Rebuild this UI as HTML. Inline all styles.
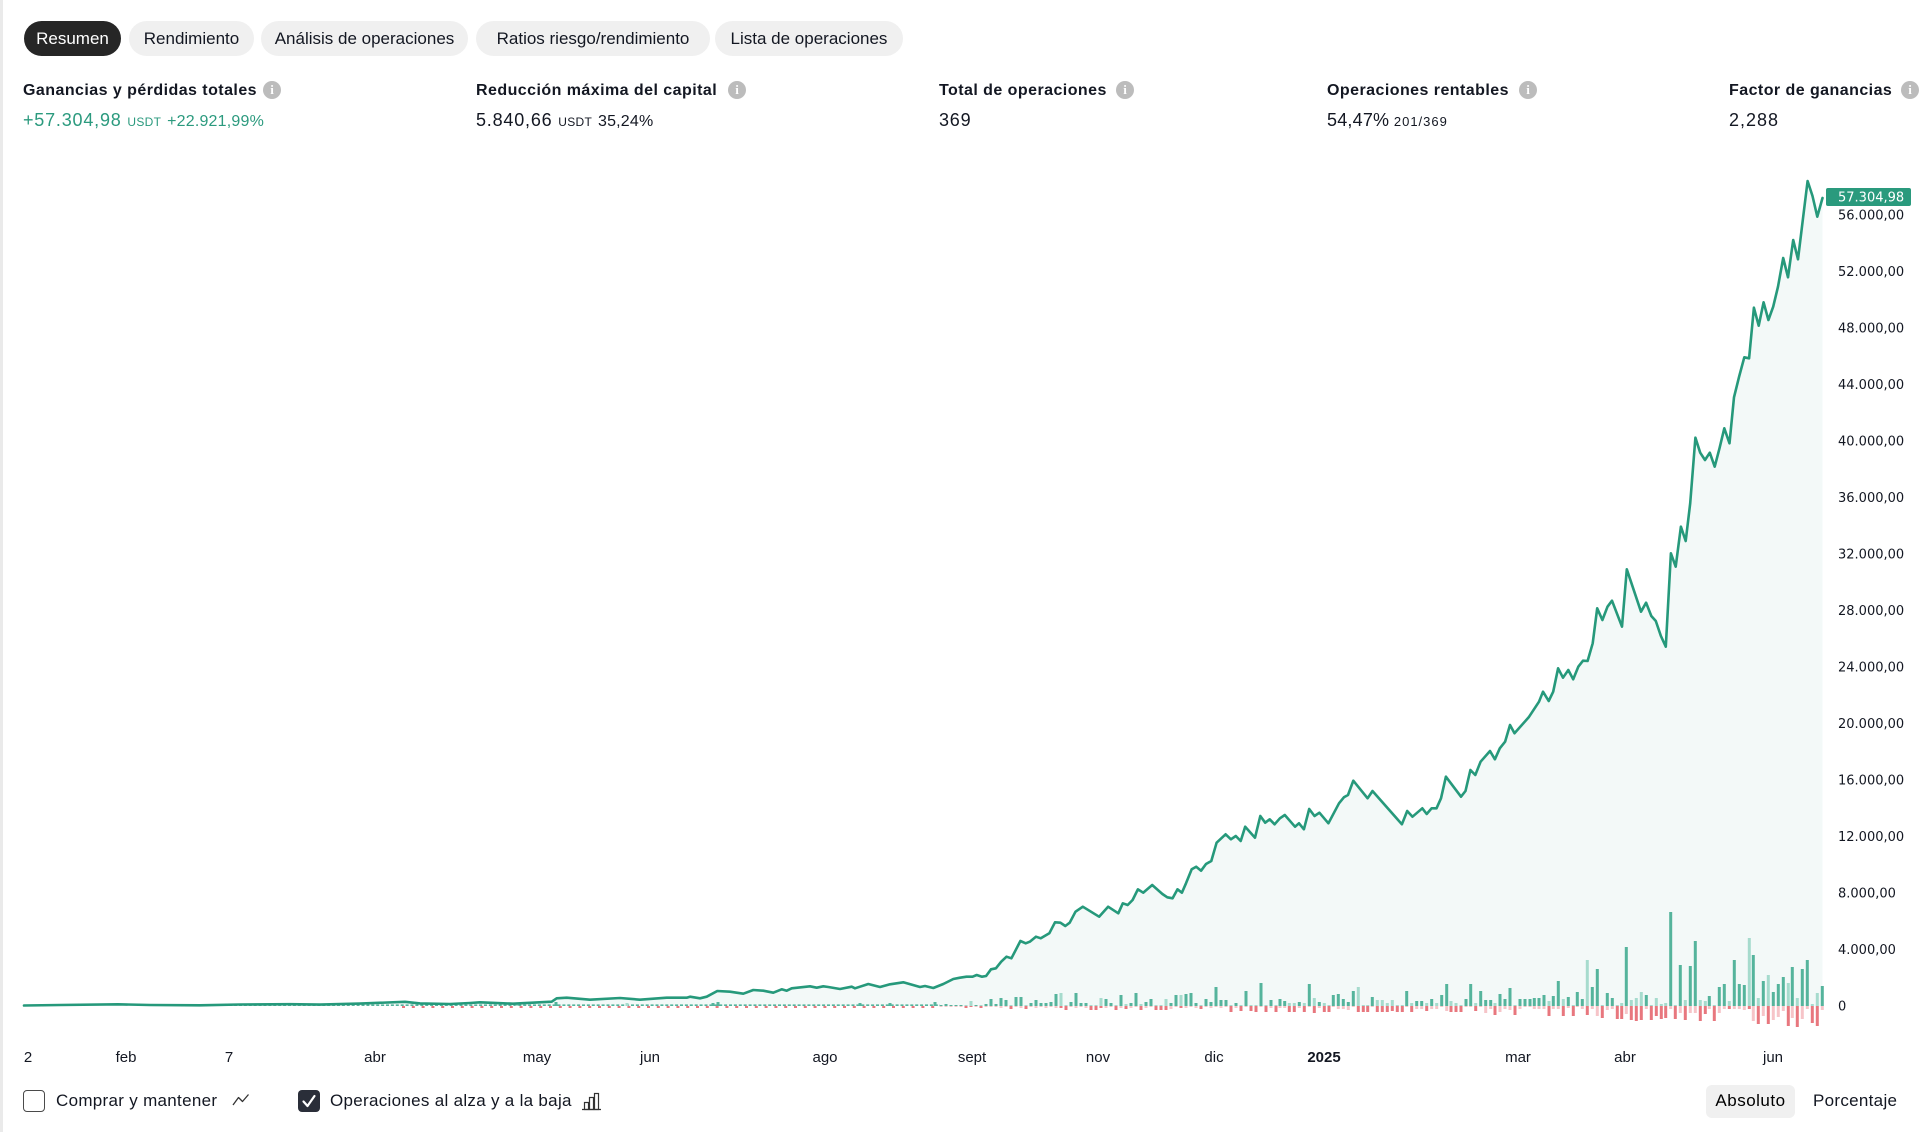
<!DOCTYPE html>
<html><head><meta charset="utf-8">
<style>
html,body{margin:0;padding:0;background:#fff;}
body{width:1923px;height:1132px;overflow:hidden;position:relative;font-family:"Liberation Sans",Arial,sans-serif;color:#131722;}
.lb{position:absolute;left:0;top:0;width:3px;height:1132px;background:#eaeaea;}
.pill{position:absolute;top:21px;height:35px;border-radius:18px;background:#f0f0f0;font-size:17px;line-height:35px;text-align:center;color:#131722;white-space:nowrap;}
.pill.on{background:#262626;color:#fff;}
.lab{position:absolute;top:81px;font-size:16px;font-weight:bold;line-height:20px;letter-spacing:0.45px;white-space:nowrap;color:#131722;}
.val{position:absolute;top:108px;height:24px;line-height:24px;font-size:18px;white-space:nowrap;letter-spacing:0.8px;color:#131722;}
.val .s{font-size:12px;letter-spacing:0.3px;}
.val .m{font-size:16px;letter-spacing:0.2px;}
.grn{color:#2b9a7e;}
.info{position:absolute;top:81px;width:18px;height:18px;border-radius:50%;background:#bcbcbc;color:#fff;font-size:13px;font-weight:bold;line-height:18px;text-align:center;font-family:"Liberation Serif",serif;}
.xl{position:absolute;top:1049px;line-height:18px;font-size:15px;transform:translateX(-50%);white-space:nowrap;color:#131722;}
.ctl{position:absolute;top:1090px;line-height:22px;font-size:17px;white-space:nowrap;color:#131722;letter-spacing:0.3px;}
</style></head><body>
<div class="lb"></div>

<div class="pill on" style="left:24px;width:97px;">Resumen</div>
<div class="pill" style="left:129px;width:125px;">Rendimiento</div>
<div class="pill" style="left:261px;width:207px;">Análisis de operaciones</div>
<div class="pill" style="left:476px;width:234px;">Ratios riesgo/rendimiento</div>
<div class="pill" style="left:715px;width:188px;">Lista de operaciones</div>

<div class="lab" style="left:23px;">Ganancias y pérdidas totales</div>
<div class="info" style="left:263px;">i</div>
<div class="lab" style="left:476px;">Reducción máxima del capital</div>
<div class="info" style="left:728px;">i</div>
<div class="lab" style="left:939px;">Total de operaciones</div>
<div class="info" style="left:1116px;">i</div>
<div class="lab" style="left:1327px;">Operaciones rentables</div>
<div class="info" style="left:1519px;">i</div>
<div class="lab" style="left:1729px;">Factor de ganancias</div>
<div class="info" style="left:1901px;">i</div>

<div class="val grn" style="left:23px;">+57.304,98 <span class="s">USDT</span> <span class="m">+22.921,99%</span></div>
<div class="val" style="left:476px;">5.840,66 <span class="s">USDT</span> <span class="m">35,24%</span></div>
<div class="val" style="left:939px;">369</div>
<div class="val" style="left:1327px;letter-spacing:0.2px;">54,47%<span class="s" style="font-size:13px;letter-spacing:1px;"> 201/369</span></div>
<div class="val" style="left:1729px;letter-spacing:1px;">2,288</div>

<svg width="1923" height="1132" style="position:absolute;left:0;top:0;" xmlns="http://www.w3.org/2000/svg">
<polygon fill="#f3f9f8" points="24,1005.5 60,1005 118,1004.3 150,1005 200,1005.3 240,1004.5 290,1004.2 320,1004.6 360,1003.6 405,1001.8 420,1003.4 450,1004 470,1003 480,1002.3 513,1003.7 551.7,1001.7 556.7,998.3 566.7,997.7 590,999.7 620,998 640,999.7 666.7,997.7 686.7,997.7 690,996.7 700,998.3 706.7,996.7 717.3,991 730,991.7 743.3,993.7 753.3,990 763.3,990.7 773.3,992.7 781.7,989.3 786.7,990.7 791.7,988.3 810,986.3 816.7,987.7 823.3,986.3 828.3,987 840,989 851.7,986.7 855,988.3 868.3,984 880,987 890,984.3 903.3,982.3 920,987 925,986 933.3,988 943.3,984 953.3,979 960,977.7 966.5,976.7 972.6,976.7 976.7,975 982,976.7 986.1,976 991,969.3 995.9,968.3 1001.2,961.7 1006.5,956.7 1011.4,958.3 1020.4,941 1025.7,943.3 1029.8,941.7 1035.9,936.7 1040.8,938.3 1049.3,933.3 1055,922.3 1060.4,922.7 1065.3,926 1069.7,922.7 1075.5,911.7 1082.8,906.7 1099.1,916.7 1108.1,906.7 1118.3,913.3 1122.8,903.3 1127.7,905 1132.6,900 1137.9,889.3 1143.2,892.7 1152.2,885 1162.4,894 1167.3,897.3 1172.6,898.3 1177.5,889.3 1181.9,892.7 1186,883.3 1191.7,869.3 1196.2,866.7 1201.1,870.7 1206,864 1211.3,861 1216.6,842.7 1225.6,834.3 1230.9,839.3 1235.8,836 1240.7,841 1245.2,826.7 1255,837.7 1260.3,816 1265.2,822.7 1269.7,819.3 1274.6,824.3 1279.9,818.3 1284.8,815 1295,826.7 1299,823.3 1303.9,829.3 1309.2,809 1314.5,816 1319.4,812.7 1328.4,823.3 1339,803.3 1343.9,797.3 1348,795 1353.3,780.7 1367.6,798.3 1372.5,791 1401.9,824.3 1407.2,811 1412.5,816.7 1422.3,808.3 1426.7,814 1431.6,808.3 1436.5,808.3 1441,798.3 1445.9,776.7 1461,796.7 1465.5,791 1470.4,770 1475.3,775 1480.6,761.7 1490,751 1494.9,759.3 1499.8,748.3 1505.1,741.7 1510,725 1514.5,733.3 1528.7,717.3 1539,701.7 1543,691.7 1548.7,701 1553.2,691.7 1558.1,668.3 1563,677.7 1568.3,670 1573.2,679.3 1578.3,666.7 1583,660.7 1587.6,661 1592.7,643.3 1597.2,608.3 1602.4,620 1607.5,606.7 1612,600.7 1622,626.7 1626.8,569.3 1641,611.7 1646.1,602.7 1651.3,616 1655.8,621 1660.9,636 1665.8,646.7 1670.9,553.3 1675.7,566.7 1680.9,526.7 1685.7,541 1690.2,503.3 1695.4,437.7 1700.2,452.7 1705,460 1709.8,452.7 1714.7,466.7 1719.5,448.3 1724.3,428.3 1729.5,443.3 1734,397.3 1739.1,376.7 1744.3,357.3 1749.1,358.3 1753.9,307.7 1758.7,325.7 1763.6,302.3 1768.4,320 1773.2,306.7 1778,286.7 1783.2,258 1788,277.3 1793.2,240 1798,259.3 1802.8,220 1807.6,181 1812.5,196 1817.3,216.7 1822.5,198 1822.5,1006 24,1006"/>

<line x1="190" y1="1005.2" x2="940" y2="1005.2" stroke="#55b49c" stroke-width="1.6" stroke-dasharray="3 1.9"/>
<line x1="402" y1="1007" x2="940" y2="1007" stroke="#e8777e" stroke-width="2" stroke-dasharray="3 6.8"/>

<path fill="#55b49c" d="M554.5 1006v-4h3v4zM711.5 1006v-3h3v3zM716.5 1006v-4h3v4zM858.5 1006v-3h3v3zM888.5 1006v-3h3v3zM933.5 1006v-4h3v4z
M939.5 1006v-1h3v1zM944.5 1006v-2h3v2zM949.5 1006v-1h3v1zM954.5 1006v-1h3v1zM959.5 1006v-1h3v1zM974.5 1006v-1h3v1zM984.5 1006v-2h3v2zM989.5 1006v-7h3v7zM994.5 1006v-2h3v2zM999.5 1006v-8h3v8zM1004.5 1006v-6h3v6zM1014.5 1006v-9h3v9zM1019.5 1006v-9h3v9zM1029.5 1006v-3h3v3zM1034.5 1006v-6h3v6zM1039.5 1006v-3h3v3zM1044.5 1006v-3h3v3zM1049.5 1006v-4h3v4zM1054.5 1006v-12h3v12zM1069.5 1006v-4h3v4zM1074.5 1006v-13h3v13zM1079.5 1006v-3h3v3zM1084.5 1006v-3h3v3zM1104.5 1006v-7h3v7zM1109.5 1006v-3h3v3zM1119.5 1006v-11h3v11zM1129.5 1006v-3h3v3zM1134.5 1006v-13h3v13zM1144.5 1006v-4h3v4zM1149.5 1006v-7h3v7zM1169.5 1006v-3h3v3zM1174.5 1006v-11h3v11zM1184.5 1006v-12h3v12zM1189.5 1006v-13h3v13zM1194.5 1006v-3h3v3zM1204.5 1006v-7h3v7zM1209.5 1006v-4h3v4zM1214.5 1006v-19h3v19zM1219.5 1006v-6h3v6zM1224.5 1006v-6h3v6zM1234.5 1006v-3h3v3zM1244.5 1006v-15h3v15zM1259.5 1006v-23h3v23zM1269.5 1006v-6h3v6z
M1278.5 1006v-7h3v7zM1283.2 1006v-5h3v5zM1297.8 1006v-4h3v4zM1307.8 1006v-22h3v22zM1317.8 1006v-4h3v4zM1331.8 1006v-11h3v11zM1336.8 1006v-12h3v12zM1341.8 1006v-7h3v7zM1346.8 1006v-4h3v4zM1351.8 1006v-15h3v15zM1370.8 1006v-9h3v9zM1405.2 1006v-15h3v15zM1415.2 1006v-5h3v5zM1420.2 1006v-5h3v5zM1430.2 1006v-7h3v7zM1440.2 1006v-11h3v11zM1445.2 1006v-22h3v22zM1464.5 1006v-7h3v7zM1469.2 1006v-22h3v22zM1479.2 1006v-15h3v15zM1484.2 1006v-6h3v6zM1489.2 1006v-6h3v6zM1498.5 1006v-12h3v12zM1503.5 1006v-7h3v7zM1508.5 1006v-18h3v18zM1518.5 1006v-7h3v7zM1523.5 1006v-7h3v7zM1528.5 1006v-7h3v7zM1532.8 1006v-8h3v8zM1537.5 1006v-8h3v8zM1542.5 1006v-11h3v11zM1551.8 1006v-10h3v10zM1556.8 1006v-25h3v25z
M1566.8 1006v-9h3v9zM1575.8 1006v-14h3v14zM1580.8 1006v-7h3v7zM1590.8 1006v-19h3v19zM1595.8 1006v-37h3v37zM1605.8 1006v-13h3v13zM1610.8 1006v-8h3v8zM1624.8 1006v-59h3v59zM1644.8 1006v-11h3v11zM1669.2 1006v-94h3v94zM1678.8 1006v-41h3v41zM1688.8 1006v-40h3v40zM1693.8 1006v-65h3v65zM1707.8 1006v-10h3v10zM1717.8 1006v-19h3v19zM1722.8 1006v-22h3v22zM1732.8 1006v-46h3v46zM1737.8 1006v-22h3v22zM1742.8 1006v-21h3v21zM1751.8 1006v-51h3v51zM1761.8 1006v-25h3v25zM1771.8 1006v-14h3v14zM1776.8 1006v-22h3v22zM1781.8 1006v-29h3v29zM1790.8 1006v-39h3v39zM1800.8 1006v-37h3v37zM1805.8 1006v-46h3v46zM1820.8 1006v-20h3v20z"/>

<path fill="#a6dbcd" d="M515.5 1006v-3h3v3zM625.5 1006v-3h3v3z
M964.5 1006v-1h3v1zM969.5 1006v-5h3v5zM979.5 1006v-1h3v1zM1009.5 1006v-1h3v1zM1024.5 1006v-1h3v1zM1059.5 1006v-13h3v13zM1064.5 1006v-1h3v1zM1089.5 1006v-1h3v1zM1094.5 1006v-1h3v1zM1099.5 1006v-8h3v8zM1114.5 1006v-1h3v1zM1124.5 1006v-2h3v2zM1139.5 1006v-2h3v2zM1154.5 1006v-1h3v1zM1159.5 1006v-1h3v1zM1164.5 1006v-7h3v7zM1179.5 1006v-11h3v11zM1199.5 1006v-1h3v1zM1229.5 1006v-1h3v1zM1239.5 1006v-1h3v1zM1249.5 1006v-1h3v1zM1254.5 1006v-1h3v1zM1264.5 1006v-1h3v1zM1274.5 1006v-1h3v1z
M1287.8 1006v-3h3v3zM1292.8 1006v-3h3v3zM1302.8 1006v-3h3v3zM1312.8 1006v-8h3v8zM1322.8 1006v-3h3v3zM1327.5 1006v-1h3v1zM1356.8 1006v-19h3v19zM1361.8 1006v-1h3v1zM1366.2 1006v-1h3v1zM1375.8 1006v-6h3v6zM1380.8 1006v-6h3v6zM1385.8 1006v-3h3v3zM1390.8 1006v-6h3v6zM1395.8 1006v-1h3v1zM1400.8 1006v-1h3v1zM1410.2 1006v-3h3v3zM1425.2 1006v-3h3v3zM1435.2 1006v-3h3v3zM1449.5 1006v-5h3v5zM1454.5 1006v-3h3v3zM1459.5 1006v-1h3v1zM1474.2 1006v-3h3v3zM1493.5 1006v-3h3v3zM1513.5 1006v-1h3v1zM1547.5 1006v-5h3v5z
M1561.8 1006v-7h3v7zM1571.8 1006v-1h3v1zM1585.8 1006v-46h3v46zM1600.8 1006v-1h3v1zM1615.8 1006v-1h3v1zM1620.2 1006v-3h3v3zM1629.8 1006v-6h3v6zM1634.8 1006v-8h3v8zM1639.8 1006v-14h3v14zM1649.8 1006v-1h3v1zM1654.8 1006v-8h3v8zM1659.8 1006v-2h3v2zM1664.2 1006v-3h3v3zM1673.8 1006v-1h3v1zM1683.8 1006v-6h3v6zM1698.8 1006v-6h3v6zM1703.8 1006v-5h3v5zM1712.8 1006v-1h3v1zM1727.8 1006v-5h3v5zM1747.8 1006v-68h3v68zM1756.8 1006v-8h3v8zM1766.8 1006v-31h3v31zM1786.8 1006v-23h3v23zM1795.8 1006v-8h3v8zM1810.8 1006v-2h3v2zM1815.8 1006v-13h3v13z"/>

<path fill="#e8777e" d="M964.5 1006v2h3v-2zM969.5 1006v1h3v-1zM979.5 1006v2h3v-2zM1009.5 1006v3h3v-3zM1024.5 1006v3h3v-3zM1059.5 1006v2h3v-2zM1064.5 1006v4h3v-4zM1089.5 1006v4h3v-4zM1094.5 1006v4h3v-4zM1099.5 1006v2h3v-2zM1114.5 1006v4h3v-4zM1124.5 1006v3h3v-3zM1139.5 1006v4h3v-4zM1154.5 1006v4h3v-4zM1159.5 1006v4h3v-4zM1164.5 1006v4h3v-4zM1179.5 1006v2h3v-2zM1199.5 1006v3h3v-3zM1229.5 1006v6h3v-6zM1239.5 1006v5h3v-5zM1249.5 1006v5h3v-5zM1254.5 1006v6h3v-6zM1264.5 1006v6h3v-6zM1274.5 1006v6h3v-6z
M1287.8 1006v6h3v-6zM1292.8 1006v6h3v-6zM1302.8 1006v6h3v-6zM1312.8 1006v7h3v-7zM1322.8 1006v6h3v-6zM1327.5 1006v6h3v-6zM1356.8 1006v6h3v-6zM1361.8 1006v6h3v-6zM1366.2 1006v6h3v-6zM1375.8 1006v6h3v-6zM1380.8 1006v6h3v-6zM1385.8 1006v6h3v-6zM1390.8 1006v5h3v-5zM1395.8 1006v6h3v-6zM1400.8 1006v6h3v-6zM1410.2 1006v6h3v-6zM1425.2 1006v5h3v-5zM1449.5 1006v6h3v-6zM1454.5 1006v6h3v-6zM1459.5 1006v6h3v-6zM1474.2 1006v5h3v-5zM1493.5 1006v9h3v-9zM1513.5 1006v9h3v-9zM1547.5 1006v10h3v-10z
M1561.8 1006v10h3v-10zM1571.8 1006v10h3v-10zM1585.8 1006v9h3v-9zM1600.8 1006v12h3v-12zM1615.8 1006v13h3v-13zM1620.2 1006v13h3v-13zM1629.8 1006v14h3v-14zM1634.8 1006v15h3v-15zM1639.8 1006v14h3v-14zM1649.8 1006v14h3v-14zM1654.8 1006v10h3v-10zM1659.8 1006v13h3v-13zM1664.2 1006v12h3v-12zM1673.8 1006v13h3v-13zM1683.8 1006v14h3v-14zM1698.8 1006v15h3v-15zM1703.8 1006v8h3v-8zM1712.8 1006v15h3v-15zM1727.8 1006v3h3v-3zM1747.8 1006v3h3v-3zM1756.8 1006v18h3v-18zM1766.8 1006v18h3v-18zM1786.8 1006v20h3v-20zM1795.8 1006v21h3v-21zM1810.8 1006v17h3v-17zM1815.8 1006v20h3v-20z"/>

<path fill="#f6c4c8" d="M939.5 1006v1h3v-1zM944.5 1006v1h3v-1zM949.5 1006v1h3v-1zM954.5 1006v1h3v-1zM959.5 1006v1h3v-1zM974.5 1006v1h3v-1zM984.5 1006v1h3v-1zM989.5 1006v1h3v-1zM994.5 1006v1h3v-1zM999.5 1006v2h3v-2zM1004.5 1006v1h3v-1zM1014.5 1006v1h3v-1zM1019.5 1006v2h3v-2zM1029.5 1006v1h3v-1zM1034.5 1006v2h3v-2zM1039.5 1006v1h3v-1zM1044.5 1006v2h3v-2zM1049.5 1006v1h3v-1zM1054.5 1006v2h3v-2zM1069.5 1006v1h3v-1zM1074.5 1006v2h3v-2zM1079.5 1006v1h3v-1zM1084.5 1006v2h3v-2zM1104.5 1006v2h3v-2zM1109.5 1006v1h3v-1zM1119.5 1006v2h3v-2zM1129.5 1006v2h3v-2zM1134.5 1006v1h3v-1zM1144.5 1006v2h3v-2zM1149.5 1006v1h3v-1zM1169.5 1006v3h3v-3zM1174.5 1006v1h3v-1zM1184.5 1006v2h3v-2zM1189.5 1006v1h3v-1zM1194.5 1006v2h3v-2zM1204.5 1006v1h3v-1zM1209.5 1006v2h3v-2zM1214.5 1006v1h3v-1zM1219.5 1006v2h3v-2zM1224.5 1006v1h3v-1zM1234.5 1006v2h3v-2zM1244.5 1006v1h3v-1zM1259.5 1006v1h3v-1zM1269.5 1006v2h3v-2z
M1278.5 1006v2h3v-2zM1283.2 1006v2h3v-2zM1297.8 1006v2h3v-2zM1307.8 1006v1h3v-1zM1317.8 1006v2h3v-2zM1331.8 1006v1h3v-1zM1336.8 1006v3h3v-3zM1341.8 1006v3h3v-3zM1346.8 1006v4h3v-4zM1351.8 1006v1h3v-1zM1370.8 1006v1h3v-1zM1405.2 1006v1h3v-1zM1415.2 1006v3h3v-3zM1420.2 1006v3h3v-3zM1430.2 1006v3h3v-3zM1435.2 1006v3h3v-3zM1440.2 1006v1h3v-1zM1445.2 1006v5h3v-5zM1464.5 1006v1h3v-1zM1469.2 1006v1h3v-1zM1479.2 1006v1h3v-1zM1484.2 1006v7h3v-7zM1489.2 1006v3h3v-3zM1498.5 1006v6h3v-6zM1503.5 1006v3h3v-3zM1508.5 1006v4h3v-4zM1518.5 1006v3h3v-3zM1523.5 1006v1h3v-1zM1528.5 1006v1h3v-1zM1532.8 1006v3h3v-3zM1537.5 1006v3h3v-3zM1542.5 1006v3h3v-3zM1551.8 1006v3h3v-3zM1556.8 1006v3h3v-3z
M1566.8 1006v2h3v-2zM1575.8 1006v1h3v-1zM1580.8 1006v3h3v-3zM1590.8 1006v3h3v-3zM1595.8 1006v10h3v-10zM1605.8 1006v4h3v-4zM1610.8 1006v3h3v-3zM1624.8 1006v8h3v-8zM1644.8 1006v3h3v-3zM1669.2 1006v3h3v-3zM1678.8 1006v7h3v-7zM1688.8 1006v7h3v-7zM1693.8 1006v7h3v-7zM1707.8 1006v3h3v-3zM1717.8 1006v7h3v-7zM1722.8 1006v3h3v-3zM1732.8 1006v3h3v-3zM1737.8 1006v3h3v-3zM1742.8 1006v4h3v-4zM1751.8 1006v15h3v-15zM1761.8 1006v10h3v-10zM1771.8 1006v14h3v-14zM1776.8 1006v11h3v-11zM1781.8 1006v5h3v-5zM1790.8 1006v12h3v-12zM1800.8 1006v13h3v-13zM1805.8 1006v3h3v-3zM1820.8 1006v4h3v-4z"/>

<polyline fill="none" stroke="#26997b" stroke-width="2.6" stroke-linejoin="round" stroke-linecap="round" points="24,1005.5 60,1005 118,1004.3 150,1005 200,1005.3 240,1004.5 290,1004.2 320,1004.6 360,1003.6 405,1001.8 420,1003.4 450,1004 470,1003 480,1002.3 513,1003.7 551.7,1001.7 556.7,998.3 566.7,997.7 590,999.7 620,998 640,999.7 666.7,997.7 686.7,997.7 690,996.7 700,998.3 706.7,996.7 717.3,991 730,991.7 743.3,993.7 753.3,990 763.3,990.7 773.3,992.7 781.7,989.3 786.7,990.7 791.7,988.3 810,986.3 816.7,987.7 823.3,986.3 828.3,987 840,989 851.7,986.7 855,988.3 868.3,984 880,987 890,984.3 903.3,982.3 920,987 925,986 933.3,988 943.3,984 953.3,979 960,977.7 966.5,976.7 972.6,976.7 976.7,975 982,976.7 986.1,976 991,969.3 995.9,968.3 1001.2,961.7 1006.5,956.7 1011.4,958.3 1020.4,941 1025.7,943.3 1029.8,941.7 1035.9,936.7 1040.8,938.3 1049.3,933.3 1055,922.3 1060.4,922.7 1065.3,926 1069.7,922.7 1075.5,911.7 1082.8,906.7 1099.1,916.7 1108.1,906.7 1118.3,913.3 1122.8,903.3 1127.7,905 1132.6,900 1137.9,889.3 1143.2,892.7 1152.2,885 1162.4,894 1167.3,897.3 1172.6,898.3 1177.5,889.3 1181.9,892.7 1186,883.3 1191.7,869.3 1196.2,866.7 1201.1,870.7 1206,864 1211.3,861 1216.6,842.7 1225.6,834.3 1230.9,839.3 1235.8,836 1240.7,841 1245.2,826.7 1255,837.7 1260.3,816 1265.2,822.7 1269.7,819.3 1274.6,824.3 1279.9,818.3 1284.8,815 1295,826.7 1299,823.3 1303.9,829.3 1309.2,809 1314.5,816 1319.4,812.7 1328.4,823.3 1339,803.3 1343.9,797.3 1348,795 1353.3,780.7 1367.6,798.3 1372.5,791 1401.9,824.3 1407.2,811 1412.5,816.7 1422.3,808.3 1426.7,814 1431.6,808.3 1436.5,808.3 1441,798.3 1445.9,776.7 1461,796.7 1465.5,791 1470.4,770 1475.3,775 1480.6,761.7 1490,751 1494.9,759.3 1499.8,748.3 1505.1,741.7 1510,725 1514.5,733.3 1528.7,717.3 1539,701.7 1543,691.7 1548.7,701 1553.2,691.7 1558.1,668.3 1563,677.7 1568.3,670 1573.2,679.3 1578.3,666.7 1583,660.7 1587.6,661 1592.7,643.3 1597.2,608.3 1602.4,620 1607.5,606.7 1612,600.7 1622,626.7 1626.8,569.3 1641,611.7 1646.1,602.7 1651.3,616 1655.8,621 1660.9,636 1665.8,646.7 1670.9,553.3 1675.7,566.7 1680.9,526.7 1685.7,541 1690.2,503.3 1695.4,437.7 1700.2,452.7 1705,460 1709.8,452.7 1714.7,466.7 1719.5,448.3 1724.3,428.3 1729.5,443.3 1734,397.3 1739.1,376.7 1744.3,357.3 1749.1,358.3 1753.9,307.7 1758.7,325.7 1763.6,302.3 1768.4,320 1773.2,306.7 1778,286.7 1783.2,258 1788,277.3 1793.2,240 1798,259.3 1802.8,220 1807.6,181 1812.5,196 1817.3,216.7 1822.5,198"/>

<g font-family="'DejaVu Sans',Verdana,sans-serif" font-size="13" fill="#131722">
<text x="1838" y="1010.7">0</text>
<text x="1838" y="954.2">4.000,00</text>
<text x="1838" y="897.7">8.000,00</text>
<text x="1838" y="841.2">12.000,00</text>
<text x="1838" y="784.7">16.000,00</text>
<text x="1838" y="728.2">20.000,00</text>
<text x="1838" y="671.7">24.000,00</text>
<text x="1838" y="615.2">28.000,00</text>
<text x="1838" y="558.7">32.000,00</text>
<text x="1838" y="502.2">36.000,00</text>
<text x="1838" y="445.7">40.000,00</text>
<text x="1838" y="389.2">44.000,00</text>
<text x="1838" y="332.7">48.000,00</text>
<text x="1838" y="276.2">52.000,00</text>
<text x="1838" y="219.7">56.000,00</text>
</g>
<rect x="1826" y="188" width="85" height="18" rx="2" fill="#2a9a7d"/>
<text x="1838" y="201.7" font-family="'DejaVu Sans',Verdana,sans-serif" font-size="13" fill="#ffffff">57.304,98</text>

<polyline points="233,1105 238.5,1097.5 242.5,1101.5 248.5,1094.5" fill="none" stroke="#333" stroke-width="1.3" stroke-linejoin="round"/>
<rect x="298" y="1090" width="22" height="22" rx="4" fill="#2a2e39"/>
<polyline points="303.5,1101.5 307.5,1106 314.5,1096" fill="none" stroke="#fff" stroke-width="2.2" stroke-linecap="round" stroke-linejoin="round"/>
<g fill="none" stroke="#333" stroke-width="1.2">
<rect x="584.5" y="1102.5" width="4" height="7"/>
<rect x="589.5" y="1097.5" width="4" height="12"/>
<rect x="594.5" y="1093.5" width="4" height="16"/>
<line x1="582" y1="1109.5" x2="601" y2="1109.5"/>
</g>
</svg>

<div class="xl" style="left:28px;">2</div>
<div class="xl" style="left:126px;">feb</div>
<div class="xl" style="left:229px;">7</div>
<div class="xl" style="left:375px;">abr</div>
<div class="xl" style="left:537px;">may</div>
<div class="xl" style="left:650px;">jun</div>
<div class="xl" style="left:825px;">ago</div>
<div class="xl" style="left:972px;">sept</div>
<div class="xl" style="left:1098px;">nov</div>
<div class="xl" style="left:1214px;">dic</div>
<div class="xl" style="left:1324px;font-weight:bold;">2025</div>
<div class="xl" style="left:1518px;">mar</div>
<div class="xl" style="left:1625px;">abr</div>
<div class="xl" style="left:1773px;">jun</div>

<div style="position:absolute;left:23px;top:1090px;width:22px;height:22px;box-sizing:border-box;border:1.5px solid #4a4a4a;border-radius:4px;background:#fff;"></div>
<div class="ctl" style="left:56px;">Comprar y mantener</div>
<div class="ctl" style="left:330px;">Operaciones al alza y a la baja</div>
<div style="position:absolute;left:1706px;top:1085px;width:89px;height:33px;border-radius:6px;background:#f0f0f0;"></div>
<div class="ctl" style="left:1706px;width:89px;text-align:center;top:1090px;letter-spacing:0.5px;color:#000;">Absoluto</div>
<div class="ctl" style="left:1813px;">Porcentaje</div>
</body></html>
